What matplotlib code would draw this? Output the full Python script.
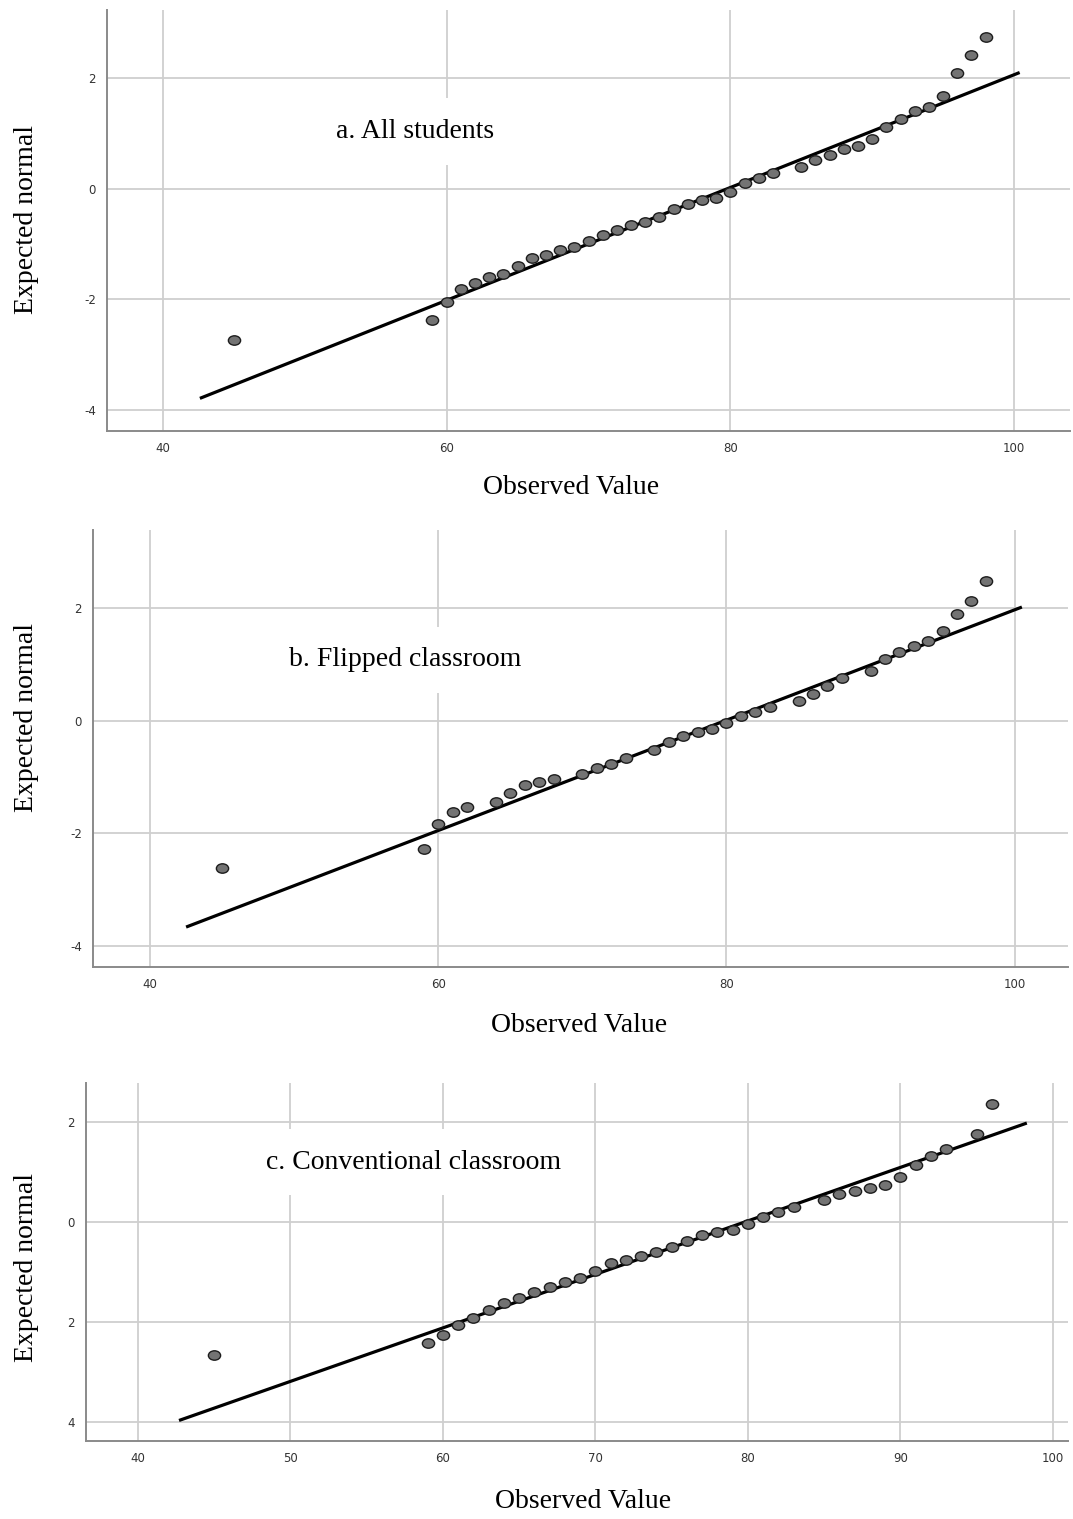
import numpy as np
import matplotlib
matplotlib.use('Agg')
import matplotlib.pyplot as plt
from matplotlib.path import Path
from matplotlib.transforms import Affine2D

# ---- data ----
# a. All students
obs_all = [45, 59, 60, 61, 62, 63, 64, 65, 66, 67, 68, 69, 70, 71, 72, 73, 74, 75,
           76, 77, 78, 79, 80, 81, 82, 83, 85, 86, 87, 88, 89, 90, 91, 92, 93, 94,
           95, 96, 97, 98]
exp_all = [-2.73, -2.38, -2.04, -1.81, -1.71, -1.60, -1.54, -1.39, -1.26, -1.20,
           -1.11, -1.06, -0.95, -0.83, -0.75, -0.66, -0.60, -0.51, -0.37, -0.27,
           -0.20, -0.16, -0.06, 0.10, 0.19, 0.28, 0.40, 0.52, 0.61, 0.72, 0.77,
           0.90, 1.12, 1.26, 1.40, 1.48, 1.67, 2.10, 2.41, 2.75]
line_all_x = [42.6, 100.4]
line_all_y = [-3.79, 2.10]

# b. Flipped classroom
obs_flip = [45, 59, 60, 61, 62, 64, 65, 66, 67, 68, 70, 71, 72, 73, 75, 76, 77, 78,
            79, 80, 81, 82, 83, 85, 86, 87, 88, 90, 91, 92, 93, 94, 95, 96, 97, 98]
exp_flip = [-2.62, -2.29, -1.84, -1.63, -1.53, -1.45, -1.29, -1.14, -1.09, -1.03,
            -0.94, -0.84, -0.77, -0.67, -0.52, -0.38, -0.28, -0.21, -0.15, -0.05,
            0.08, 0.15, 0.25, 0.35, 0.47, 0.62, 0.75, 0.89, 1.09, 1.22, 1.33, 1.41,
            1.59, 1.89, 2.12, 2.49]
line_flip_x = [42.5, 100.5]
line_flip_y = [-3.67, 2.02]

# c. Conventional classroom
obs_conv = [45, 59, 60, 61, 62, 63, 64, 65, 66, 67, 68, 69, 70, 71, 72, 73, 74, 75,
            76, 77, 78, 79, 80, 81, 82, 83, 85, 86, 87, 88, 89, 90, 91, 92, 93, 95, 96]
exp_conv = [-2.67, -2.42, -2.27, -2.07, -1.92, -1.77, -1.62, -1.52, -1.40, -1.31,
            -1.21, -1.13, -0.98, -0.82, -0.77, -0.68, -0.60, -0.51, -0.38, -0.27,
            -0.20, -0.17, -0.05, 0.10, 0.20, 0.29, 0.43, 0.56, 0.62, 0.68, 0.73,
            0.89, 1.14, 1.31, 1.46, 1.75, 2.35]
line_conv_x = [42.7, 98.3]
line_conv_y = [-3.97, 1.97]

xticks_ab = [40, 60, 80, 100]
xticks_c = [40, 50, 60, 70, 80, 90, 100]
yticks = [2, 0, -2, -4]
ytick_labels_ab = ['2', '0', '-2', '-4']
ytick_labels_c = ['2', '0', '2', '4']   # minus signs are cut off in the source

SERIF = 'Liberation Serif'
W, H = 1073, 1519

# elliptical point marker, a little wider than tall
ellipse = Path.unit_circle().transformed(Affine2D().scale(1.3, 1.0))

fig = plt.figure(figsize=(W / 100, H / 100), dpi=100)


def px_axes(left, top, right, bottom):
    return fig.add_axes([left / W, 1 - bottom / H, (right - left) / W, (bottom - top) / H])


def panel(ax, xs, ys, lx, ly, xlim, ylim, xticks, ylabels, title, title_xy):
    ax.set_xlim(*xlim)
    ax.set_ylim(*ylim)
    ax.set_xticks(xticks)
    ax.set_yticks(yticks)
    ax.set_yticklabels(ylabels)
    ax.grid(True, color='#cfcfcf', lw=1.3)
    ax.set_axisbelow(True)
    for s in ['top', 'right']:
        ax.spines[s].set_visible(False)
    for s in ['left', 'bottom']:
        ax.spines[s].set_color('#8a8a8a')
        ax.spines[s].set_linewidth(1.4)
    ax.tick_params(length=0, labelsize=8.5, labelcolor='#333333', pad=8)
    ax.plot(lx, ly, color='black', lw=2.3, solid_capstyle='butt', zorder=3)
    ax.plot(xs, ys, ls='none', marker=ellipse, ms=8.8, mfc='#737373',
            mec='#1c1c1c', mew=1.0, zorder=4)
    ax.text(title_xy[0], title_xy[1], title, family=SERIF, fontsize=20,
            ha='center', va='center', zorder=2,
            bbox=dict(facecolor='white', edgecolor='none', boxstyle='square,pad=0.75'))


ax_a = px_axes(107, 10, 1070, 431)
panel(ax_a, obs_all, exp_all, line_all_x, line_all_y, (36.05, 103.95), (-4.38, 3.23),
      xticks_ab, ytick_labels_ab, 'a. All students', (57.8, 1.03))

ax_b = px_axes(93, 530, 1068, 967)
panel(ax_b, obs_flip, exp_flip, line_flip_x, line_flip_y, (36.04, 103.7), (-4.38, 3.39),
      xticks_ab, ytick_labels_ab, 'b. Flipped classroom', (57.7, 1.08))

ax_c = px_axes(86, 1083, 1068, 1441)
panel(ax_c, obs_conv, exp_conv, line_conv_x, line_conv_y, (36.6, 101.0), (-4.38, 2.77),
      xticks_c, ytick_labels_c, 'c. Conventional classroom', (58.1, 1.19))

# axis titles placed like the stitched source image
for yc in [220, 718, 1268]:
    fig.text(27 / W, 1 - yc / H, 'Expected normal', family=SERIF, fontsize=20,
             rotation=90, ha='center', va='center')
for xc, yc in [(571, 488), (579, 1025), (583, 1502)]:
    fig.text(xc / W, 1 - yc / H, 'Observed Value', family=SERIF, fontsize=20,
             ha='center', va='center')

fig.savefig('out.png', dpi=100)
